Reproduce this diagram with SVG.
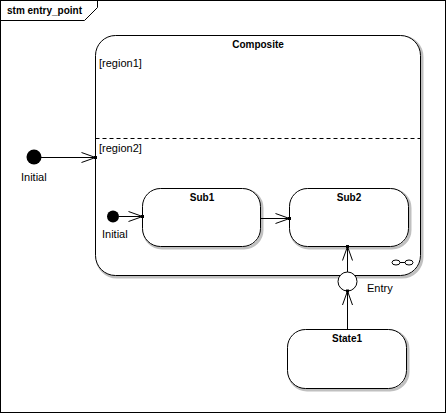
<svg xmlns="http://www.w3.org/2000/svg" width="447" height="414" viewBox="0 0 447 414">
<defs>
<marker id="arr" markerUnits="userSpaceOnUse" markerWidth="20" markerHeight="14" refX="15" refY="6" orient="auto" viewBox="0 0 20 14">
<path d="M1,1 L15,6 L1,11" fill="none" stroke="#000" stroke-width="1"/>
<rect x="13.5" y="4.5" width="3" height="3" fill="#000"/>
</marker>
</defs>
<style>
text{font-family:"Liberation Sans",Arial,sans-serif;fill:#000}
.b{font-weight:bold;font-size:10px}
.r{font-size:11px}
.m{text-anchor:middle}
.st{fill:#fff;stroke:#000;stroke-width:1}
.sh{fill:none;stroke:#c0c0c0;stroke-width:3}
.ln{stroke:#000;stroke-width:1;fill:none}
</style>
<rect x="0" y="0" width="447" height="414" fill="#fff"/>
<g id="frame">
<rect x="0.5" y="0.5" width="445" height="412" fill="none" stroke="#000"/>
<path d="M0.5,20.5 H84.5 L97.5,7.5 V0.5" class="ln"/>
<text class="b" x="7" y="14">stm entry_point</text>
</g>
<g id="composite">
<rect x="97" y="37" width="325" height="240" rx="20" class="sh"/>
<rect x="95.5" y="35.5" width="325" height="240" rx="20" class="st"/>
<text class="b m" x="258" y="48">Composite</text>
<text class="r" x="99" y="67">[region1]</text>
<line x1="95.5" y1="138.5" x2="420.5" y2="138.5" stroke="#000" stroke-dasharray="4,3"/>
<text class="r" x="99" y="152">[region2]</text>
<g fill="none" stroke="#000">
<ellipse cx="396" cy="262.5" rx="4" ry="2.5"/>
<ellipse cx="409" cy="262.5" rx="4" ry="2.5"/>
<line x1="400" y1="262.5" x2="405" y2="262.5"/>
</g>
</g>
<g id="initial1">
<circle cx="34" cy="157" r="7.5" fill="#000"/>
<text class="r" x="21" y="181">Initial</text>
</g>
<g id="initial2">
<circle cx="113" cy="216.5" r="6" fill="#000"/>
<text class="r" x="102" y="238">Initial</text>
</g>
<g id="sub1">
<rect x="144" y="190" width="118" height="58" rx="18" class="sh"/>
<rect x="142.5" y="188.5" width="118" height="58" rx="18" class="st"/>
<text class="b m" x="202" y="201">Sub1</text>
</g>
<g id="sub2">
<rect x="291" y="190" width="119" height="58" rx="18" class="sh"/>
<rect x="289.5" y="188.5" width="119" height="58" rx="18" class="st"/>
<text class="b m" x="349" y="201">Sub2</text>
</g>
<g id="state1">
<rect x="289" y="331" width="119" height="59" rx="18" class="sh"/>
<rect x="287.5" y="329.5" width="119" height="59" rx="18" class="st"/>
<text class="b m" x="347" y="342">State1</text>
</g>
<g id="entry">
<circle cx="347.5" cy="281.5" r="9.5" class="st"/>
<text class="r" x="367" y="292">Entry</text>
</g>
<g id="connectors">
<line x1="41" y1="157.5" x2="95.5" y2="157.5" class="ln" marker-end="url(#arr)"/>
<line x1="119" y1="216.5" x2="142.5" y2="216.5" class="ln" marker-end="url(#arr)"/>
<line x1="260.5" y1="218.5" x2="289.5" y2="218.5" class="ln" marker-end="url(#arr)"/>
<line x1="347.5" y1="272" x2="347.5" y2="246.5" class="ln" marker-end="url(#arr)"/>
<line x1="347.5" y1="329.5" x2="347.5" y2="291" class="ln" marker-end="url(#arr)"/>
</g>
</svg>
